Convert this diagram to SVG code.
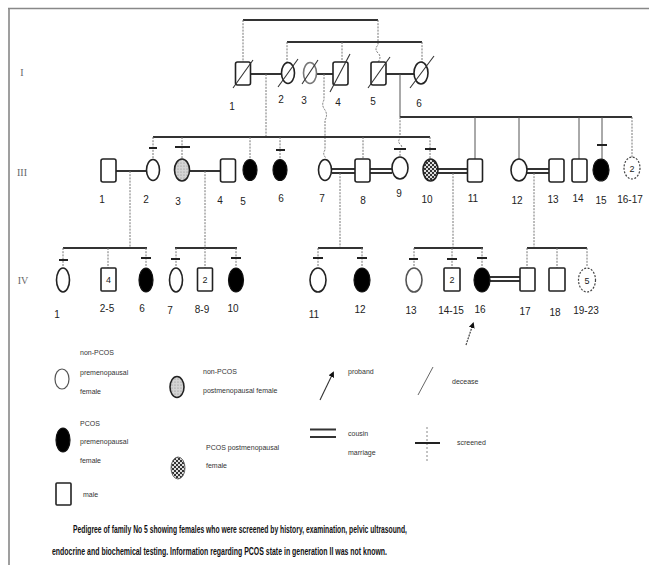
<svg xmlns="http://www.w3.org/2000/svg" width="649" height="565" viewBox="0 0 649 565">
<style>
.sym{fill:#fff;stroke:#222;stroke-width:1.6}
.aff{fill:#000;stroke:#111;stroke-width:1.2}
.dash{fill:#fff;stroke:#444;stroke-width:1.2;stroke-dasharray:2 1.5}
.hl{stroke:#333;stroke-width:2;fill:none}
.ml{stroke:#333;stroke-width:2;fill:none}
.vl{stroke:#777;stroke-width:1;stroke-dasharray:2 1.2;fill:none}
.vs{stroke:#555;stroke-width:1;fill:none}
.scr{stroke:#222;stroke-width:2}
.dec{stroke:#333;stroke-width:1.1}
.lbl{font-family:"Liberation Sans",Arial,sans-serif;font-size:10px;text-anchor:middle;fill:#222}
.gen{font-family:"Liberation Serif",serif;font-size:10px;text-anchor:middle;fill:#666}
.leg{font-family:"Liberation Sans",Arial,sans-serif;font-size:7px;fill:#333}
.cap{font-family:"Liberation Sans",Arial,sans-serif;font-size:10px;font-weight:bold;fill:#111}
.in{font-family:"Liberation Sans",Arial,sans-serif;font-size:9px;text-anchor:middle;fill:#222}
</style>
<defs>
<pattern id="stip" width="3" height="3" patternUnits="userSpaceOnUse">
<rect width="3" height="3" fill="#d4d4d4"/><circle cx="1" cy="1" r="0.6" fill="#888"/>
</pattern>
<pattern id="hatch" width="4" height="4" patternUnits="userSpaceOnUse">
<rect width="4" height="4" fill="#ddd"/><rect width="2" height="2" fill="#333"/><rect x="2" y="2" width="2" height="2" fill="#333"/>
</pattern>
<marker id="arr" markerWidth="6" markerHeight="6" refX="4" refY="3" orient="auto" markerUnits="userSpaceOnUse">
<path d="M0,0 L6,3 L0,6 z" fill="#111"/>
</marker>
</defs>
<rect width="649" height="565" fill="#fff"/>
<path d="M8,8.5 H649 M9,8 V565" stroke="#888" stroke-width="1.6" fill="none"/>

<g id="gen-labels">
<text class="gen" x="22" y="76">I</text>
<text class="gen" x="22" y="176">III</text>
<text class="gen" x="23" y="284">IV</text>
</g>

<g id="connectors">
<!-- generation I -->
<path class="hl" d="M243,20 H378"/>
<path class="vl" d="M243,20 V62"/>
<path class="vl" d="M378,20 V45 q-4,4 0,8 q4,4 0,9"/>
<path class="hl" d="M287,42 H422"/>
<path class="vl" d="M287,42 V62 M342,42 V62 M422,42 V62"/>
<path class="ml" d="M251,74 H281 M317,74 H333 M385,74 H414"/>
<path class="vl" d="M266,74 V137"/>
<path class="vl" d="M324,74 V100 q-3,5 1,10 q3,5 0,10 V137 V150 q-3,4 1,8"/>
<path class="vs" d="M400,74 V117"/>
<path class="hl" d="M400,117 H632"/>
<path class="vl" d="M400,117 V138 q-3,4 1,7 q2,3 -1,6 V158"/>
<!-- generation III sibship -->
<path class="hl" d="M153,137 H430"/>
<path class="vl" d="M153,137 V159 M182,137 V159 M250,137 V159 M280,137 V159 M363,137 V159 M430,137 V159"/>
<path class="vs" d="M475,117 V159 M519,117 V159 M579,117 V159 M602,117 V159"/>
<path class="vl" d="M632,117 V157"/>
<!-- screened marks gen III -->
<path class="scr" d="M149,148 H157 M175,147 H190 M276,150 H285 M394,149 H406 M425,149 H436 M597,145 H607"/>
<!-- marriages gen III -->
<path class="ml" d="M116,171 H146 M189,171 H221"/>
<path class="ml" d="M332,169 H355 M332,173 H355 M370,169 H392 M370,173 H392 M438,169 H468 M438,173 H468 M527,169 H549 M527,173 H549"/>
<path class="vl" d="M130,171 V248 M205,171 V248 M340,173 V248 M453,173 V248 M534,173 V248"/>
<!-- generation IV -->
<path class="hl" d="M63,248 H147 M175,248 H237 M318,248 H363 M414,248 H483 M527,248 H587"/>
<path class="vl" d="M63,248 V267 M108,248 V268 M146,248 V267 M176,248 V267 M205,248 V268 M236,248 V267 M318,248 V267 M362,248 V267 M414,248 V267 M452,248 V268 M482,248 V267 M527,248 V268 M557,248 V268 M587,248 V267"/>
<path class="scr" d="M59,260 H68 M141,258 H151 M171,259 H180 M231,258 H241 M313,258 H323 M357,258 H367 M409,259 H418 M447,259 H457 M477,258 H487"/>
<path class="ml" d="M490,277 H520 M490,281 H520"/>
<!-- proband -->
<path d="M466,345 L473,324" stroke="#444" stroke-width="1.2" stroke-dasharray="2 1" marker-end="url(#arr)"/>
</g>

<!-- Generation I -->
<g id="I-1"><rect class="sym" x="235.5" y="62" width="15" height="23" rx="2"/><line class="dec" x1="233" y1="88" x2="253" y2="60"/><text class="lbl" x="232" y="110">1</text></g>
<g id="I-2"><ellipse class="sym" cx="288" cy="73" rx="6.5" ry="10.5"/><line class="dec" x1="278" y1="87" x2="298" y2="59"/><text class="lbl" x="281" y="103">2</text></g>
<g id="I-3"><ellipse class="sym" cx="310" cy="73" rx="6.5" ry="10.5" style="stroke:#777"/><line class="dec" x1="302" y1="84" x2="318" y2="60"/><text class="lbl" x="304" y="104">3</text></g>
<g id="I-4"><rect class="sym" x="333" y="62" width="15" height="23" rx="2"/><line class="dec" x1="330" y1="92" x2="350" y2="54"/><text class="lbl" x="338" y="106">4</text></g>
<g id="I-5"><rect class="sym" x="371" y="62" width="15" height="23" rx="2"/><line class="dec" x1="368" y1="88" x2="390" y2="57"/><text class="lbl" x="373" y="105">5</text></g>
<g id="I-6"><ellipse class="sym" cx="421" cy="73" rx="7" ry="11"/><line class="dec" x1="410" y1="88" x2="434" y2="56"/><text class="lbl" x="419" y="107">6</text></g>

<!-- Generation III -->
<g id="II-1"><rect class="sym" x="101" y="159" width="15" height="23" rx="2"/><text class="lbl" x="102" y="203">1</text></g>
<g id="II-2"><ellipse class="sym" cx="153" cy="170" rx="6.5" ry="10.5"/><text class="lbl" x="146" y="203">2</text></g>
<g id="II-3"><ellipse class="sym" cx="182" cy="170" rx="7.5" ry="11" style="fill:url(#stip)"/><text class="lbl" x="178" y="205">3</text></g>
<g id="II-4"><rect class="sym" x="220.5" y="159" width="15" height="23" rx="2"/><text class="lbl" x="220" y="204">4</text></g>
<g id="II-5"><ellipse class="aff" cx="250" cy="170" rx="7" ry="10.5"/><text class="lbl" x="243" y="205">5</text></g>
<g id="II-6"><ellipse class="aff" cx="280" cy="170" rx="7" ry="10.5"/><text class="lbl" x="281" y="202">6</text></g>
<g id="II-7"><ellipse class="sym" cx="325" cy="170" rx="6.5" ry="10.5"/><text class="lbl" x="322" y="202">7</text></g>
<g id="II-8"><rect class="sym" x="355" y="159" width="15" height="23" rx="2"/><text class="lbl" x="363" y="204">8</text></g>
<g id="II-9"><ellipse class="sym" cx="400" cy="168" rx="8" ry="11"/><text class="lbl" x="399" y="197">9</text></g>
<g id="II-10"><ellipse class="sym" cx="430.5" cy="170" rx="7.5" ry="11" style="fill:url(#hatch)"/><text class="lbl" x="427" y="203">10</text></g>
<g id="II-11"><rect class="sym" x="467.5" y="159" width="15" height="23" rx="2"/><text class="lbl" x="473" y="202">11</text></g>
<g id="II-12"><ellipse class="sym" cx="519" cy="170" rx="8" ry="11"/><text class="lbl" x="517" y="204">12</text></g>
<g id="II-13"><rect class="sym" x="549" y="159" width="15" height="23" rx="2"/><text class="lbl" x="553" y="203">13</text></g>
<g id="II-14"><rect class="sym" x="572" y="159" width="15" height="23" rx="2"/><text class="lbl" x="578" y="202">14</text></g>
<g id="II-15"><ellipse class="aff" cx="601" cy="170" rx="8" ry="11"/><text class="lbl" x="601" y="204">15</text></g>
<g id="II-16-17"><ellipse class="dash" cx="632" cy="168" rx="8" ry="11"/><text class="in" x="632" y="172">2</text><text class="lbl" x="630" y="203">16-17</text></g>

<!-- Generation IV -->
<g id="IV-1"><ellipse class="sym" cx="63" cy="280" rx="6.5" ry="12"/><text class="lbl" x="57" y="318">1</text></g>
<g id="IV-2-5"><rect class="sym" x="101" y="268" width="15" height="23" rx="1"/><text class="in" x="108.5" y="283">4</text><text class="lbl" x="107" y="312">2-5</text></g>
<g id="IV-6"><ellipse class="aff" cx="146" cy="280" rx="7" ry="12"/><text class="lbl" x="142" y="312">6</text></g>
<g id="IV-7"><ellipse class="sym" cx="176" cy="280" rx="6.5" ry="12"/><text class="lbl" x="170" y="314">7</text></g>
<g id="IV-8-9"><rect class="sym" x="197.5" y="268" width="15" height="23" rx="1"/><text class="in" x="205" y="283">2</text><text class="lbl" x="202" y="313">8-9</text></g>
<g id="IV-10"><ellipse class="aff" cx="236" cy="280" rx="7.5" ry="12"/><text class="lbl" x="233" y="312">10</text></g>
<g id="IV-11"><ellipse class="sym" cx="318" cy="280" rx="8" ry="12"/><text class="lbl" x="314" y="318">11</text></g>
<g id="IV-12"><ellipse class="aff" cx="362" cy="280" rx="8" ry="12"/><text class="lbl" x="360" y="313">12</text></g>
<g id="IV-13"><ellipse class="sym" cx="414" cy="280" rx="8" ry="12" style="stroke:#555"/><text class="lbl" x="411" y="314">13</text></g>
<g id="IV-14-15"><rect class="sym" x="444" y="268" width="16" height="23" rx="1"/><text class="in" x="452" y="283">2</text><text class="lbl" x="451" y="314">14-15</text></g>
<g id="IV-16"><ellipse class="aff" cx="482" cy="280" rx="8" ry="12"/><text class="lbl" x="480" y="313">16</text></g>
<g id="IV-17"><rect class="sym" x="520" y="268" width="15" height="23" rx="1"/><text class="lbl" x="525" y="315">17</text></g>
<g id="IV-18"><rect class="sym" x="549" y="268" width="16" height="23" rx="1"/><text class="lbl" x="555" y="316">18</text></g>
<g id="IV-19-23"><ellipse class="dash" cx="587" cy="280" rx="8.5" ry="12"/><text class="in" x="587" y="284">5</text><text class="lbl" x="586" y="314">19-23</text></g>

<!-- Legend -->
<g id="legend">
<ellipse class="sym" cx="62" cy="379" rx="7" ry="10" style="stroke:#555;stroke-width:1.2"/>
<text class="leg" x="80" y="355">non-PCOS</text>
<text class="leg" x="80" y="375">premenopausal</text>
<text class="leg" x="80" y="394">female</text>
<ellipse class="sym" cx="177" cy="387" rx="7" ry="10.5" style="fill:url(#stip)"/>
<text class="leg" x="203" y="374">non-PCOS</text>
<text class="leg" x="203" y="393">postmenopausal female</text>
<ellipse class="aff" cx="63" cy="440" rx="7" ry="12"/>
<text class="leg" x="80" y="426">PCOS</text>
<text class="leg" x="80" y="444">premenopausal</text>
<text class="leg" x="80" y="463">female</text>
<ellipse class="sym" cx="178" cy="468" rx="7" ry="11" style="fill:url(#hatch);stroke:#666;stroke-width:1"/>
<text class="leg" x="206" y="450">PCOS postmenopausal</text>
<text class="leg" x="206" y="468">female</text>
<rect class="sym" x="56" y="483" width="15" height="22" rx="1"/>
<text class="leg" x="83" y="497">male</text>
<line x1="320" y1="400" x2="333" y2="373" stroke="#333" stroke-width="1.1" marker-end="url(#arr)"/>
<text class="leg" x="348" y="374">proband</text>
<line class="dec" x1="418" y1="395" x2="433" y2="367" style="stroke:#666;stroke-width:1"/>
<text class="leg" x="452" y="384">decease</text>
<path d="M310,429.5 H336 M310,437 H336" stroke="#333" stroke-width="2"/>
<text class="leg" x="348" y="436">cousin</text>
<text class="leg" x="348" y="455">marriage</text>
<line x1="427" y1="427" x2="427" y2="463" stroke="#888" stroke-width="1" stroke-dasharray="2 2"/>
<line x1="415" y1="443" x2="440" y2="443" stroke="#222" stroke-width="2"/>
<text class="leg" x="457" y="445">screened</text>
</g>

<g id="caption">
<text class="cap" x="73" y="533" textLength="334" lengthAdjust="spacingAndGlyphs">Pedigree of family No 5 showing females who were screened by history, examination, pelvic ultrasound,</text>
<text class="cap" x="52" y="555" textLength="335" lengthAdjust="spacingAndGlyphs">endocrine and biochemical testing. Information regarding PCOS state in generation II was not known.</text>
</g>
</svg>
